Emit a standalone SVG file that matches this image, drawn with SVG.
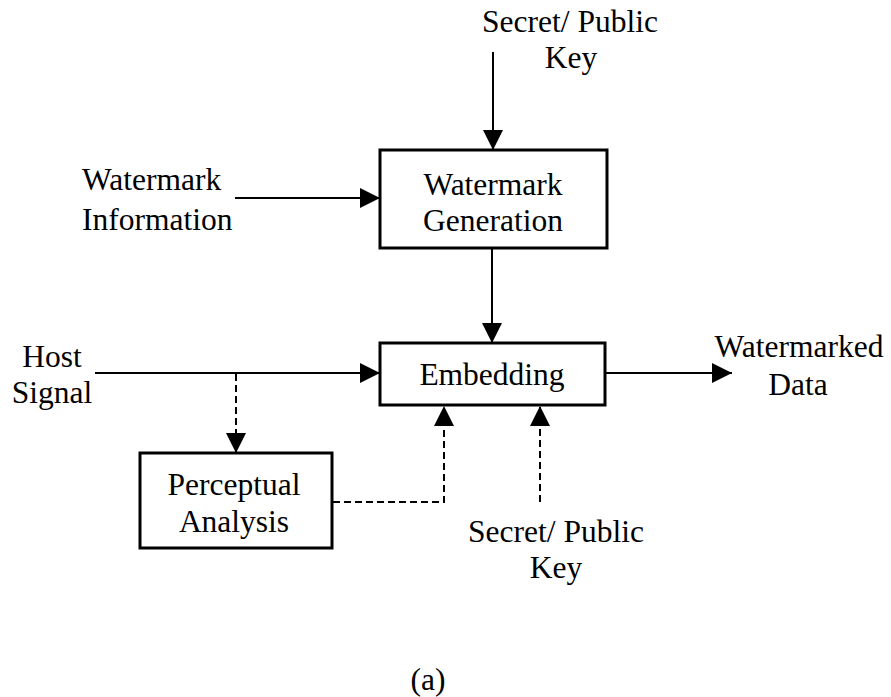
<svg xmlns="http://www.w3.org/2000/svg" width="891" height="697" viewBox="0 0 891 697">
<style>
text{font-family:"Liberation Serif","Times New Roman",serif;font-size:31.5px;fill:#000;text-anchor:middle}
.box{fill:#fff;stroke:#000;stroke-width:3}
.ln{fill:none;stroke:#000;stroke-width:2}
.dash{stroke-dasharray:7 4}
</style>
<defs>
<marker id="ah" markerWidth="20" markerHeight="20" refX="20" refY="10" orient="auto" markerUnits="userSpaceOnUse">
<path d="M0,0 L20,10 L0,20 Z" fill="#000"/>
</marker>
</defs>
<rect width="891" height="697" fill="#fff"/>
<g id="connectors">
<line class="ln" x1="493" y1="52" x2="493" y2="150" marker-end="url(#ah)"/>
<line class="ln" x1="235" y1="198" x2="380" y2="198" marker-end="url(#ah)"/>
<line class="ln" x1="492" y1="248" x2="492" y2="343" marker-end="url(#ah)"/>
<line class="ln" x1="95" y1="373" x2="380" y2="373" marker-end="url(#ah)"/>
<line class="ln dash" x1="236" y1="374" x2="236" y2="453" marker-end="url(#ah)"/>
<line class="ln" x1="605" y1="373" x2="732" y2="373" marker-end="url(#ah)"/>
<polyline class="ln dash" points="333,502 444,502 444,406" marker-end="url(#ah)"/>
<line class="ln dash" x1="540" y1="502" x2="540" y2="406" marker-end="url(#ah)"/>
</g>
<g id="wm-generation">
<rect class="box" x="380" y="150" width="227" height="98"/>
<text x="493" y="195">Watermark</text>
<text x="493" y="231">Generation</text>
</g>
<g id="embedding">
<rect class="box" x="380" y="343" width="225" height="62"/>
<text x="492" y="385">Embedding</text>
</g>
<g id="perceptual">
<rect class="box" x="140" y="453" width="192" height="95"/>
<text x="234" y="495">Perceptual</text>
<text x="234" y="532">Analysis</text>
</g>
<g id="labels">
<text x="570" y="32">Secret/ Public</text>
<text x="571" y="68">Key</text>
<text x="82" y="190" style="text-anchor:start">Watermark</text>
<text x="82" y="230" style="text-anchor:start">Information</text>
<text x="52" y="367">Host</text>
<text x="52" y="403">Signal</text>
<text x="799" y="357">Watermarked</text>
<text x="798" y="395">Data</text>
<text x="556" y="542">Secret/ Public</text>
<text x="556" y="578">Key</text>
<text x="428" y="690">(a)</text>
</g>
</svg>
